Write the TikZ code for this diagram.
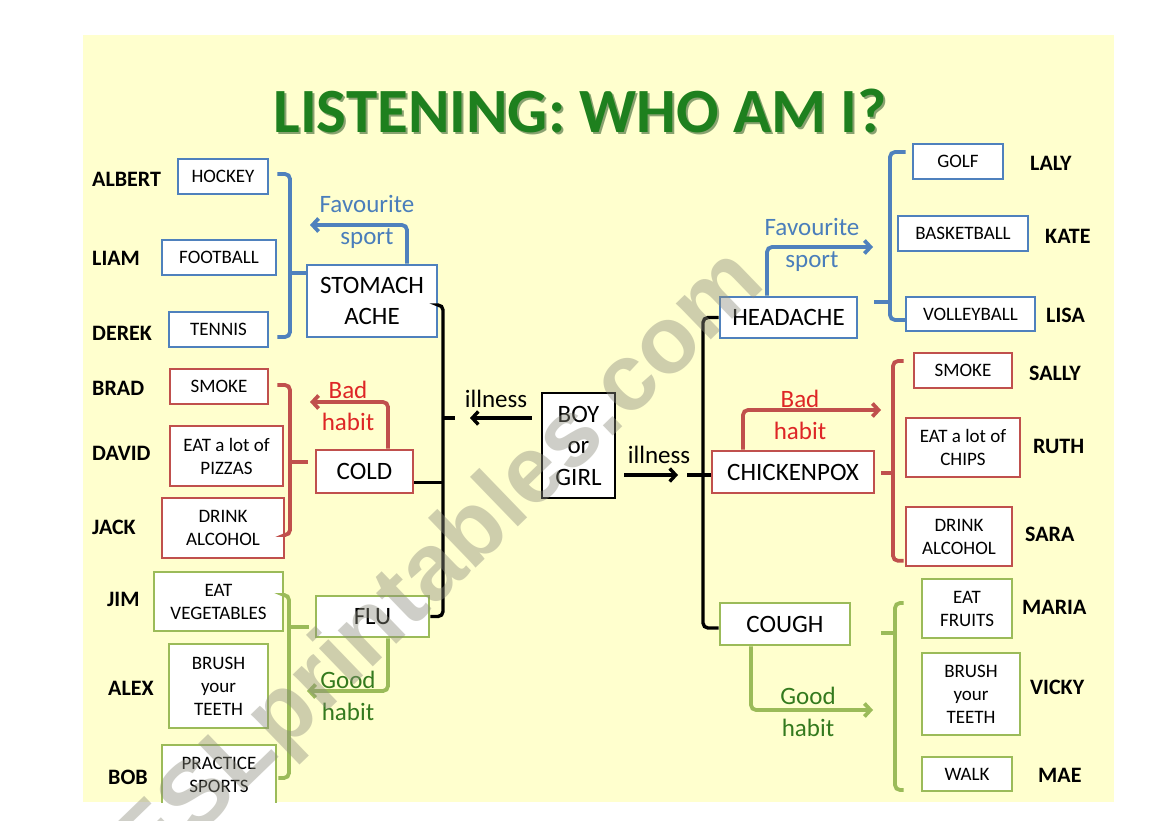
\documentclass[tikz,border=0pt]{standalone}
\usepackage{fontspec}
\setmainfont{Carlito}
\newfontfamily\wmfont{Liberation Sans}
\usetikzlibrary{arrows.meta}
\definecolor{slidebg}{RGB}{255,255,206}
\definecolor{bxblue}{RGB}{79,129,189}
\definecolor{bxred}{RGB}{192,80,77}
\definecolor{bxgreen}{RGB}{155,187,89}
\definecolor{txblue}{RGB}{74,126,187}
\definecolor{txred}{RGB}{222,38,38}
\definecolor{txgreen}{RGB}{52,122,30}
\definecolor{ttlgreen}{RGB}{30,128,30}
\definecolor{ttlshade}{RGB}{20,70,20}
\definecolor{wmgray}{RGB}{140,140,125}
\begin{document}
\begin{tikzpicture}[x=1pt,y=-1pt,
  item/.style={draw, fill=white, line width=2.6pt, inner sep=0pt, align=center,
    font=\fontsize{19}{23}\selectfont},
  bitem/.style={item, draw=bxblue},
  ritem/.style={item, draw=bxred},
  gitem/.style={item, draw=bxgreen},
  ill/.style={font=\fontsize{25}{31.5}\selectfont},
  who/.style={anchor=west, inner sep=0pt, font=\bfseries\fontsize{22}{24}\selectfont},
  lbl/.style={align=center, inner sep=0pt, font=\fontsize{25}{32}\selectfont},
  br/.style={line width=3.8pt, rounded corners=5pt},
  blk/.style={line width=3.4pt, rounded corners=5pt},
  tip/.style={-{Straight Barb[length=6pt,width=13pt]}},
]
\useasboundingbox (0,0) rectangle (1169,821);
\fill[slidebg] (83,35) rectangle (1114,802);

\begin{scope}
\clip (83,35) rectangle (1114,802);

% title
\node[font=\bfseries\fontsize{63}{63}\selectfont, text=ttlshade, opacity=0.5] at (582,113) {LISTENING: WHO AM I?};
\node[font=\bfseries\fontsize{63}{63}\selectfont, text=ttlgreen] (title) at (580,111) {LISTENING: WHO AM I?};

% centre
\node[item, draw=black, ill, minimum width=73pt, minimum height=105pt] (boy) at (578.5,445.5) {BOY\\or\\GIRL};

% left illnesses
\node[bitem, ill, minimum width=130pt, minimum height=72pt] (stomach) at (372,301) {STOMACH\\ACHE};
\node[ritem, ill, minimum width=97pt, minimum height=43pt] (cold) at (364.5,471.5) {COLD};
\node[gitem, ill, minimum width=113pt, minimum height=41pt] (flu) at (372.5,616.5) {FLU};

% left items
\node[bitem, minimum width=90pt, minimum height=35pt] (hockey) at (223,176.5) {HOCKEY};
\node[bitem, minimum width=114pt, minimum height=35pt] (football) at (219,257.5) {FOOTBALL};
\node[bitem, minimum width=99pt, minimum height=35pt] (tennis) at (218.5,329.5) {TENNIS};
\node[ritem, minimum width=98pt, minimum height=35pt] (smokeL) at (219,386.5) {SMOKE};
\node[ritem, minimum width=113pt, minimum height=60pt] (pizzas) at (226.5,456) {EAT a lot of\\PIZZAS};
\node[ritem, minimum width=122pt, minimum height=60pt] (alcoholL) at (223,528) {DRINK\\ALCOHOL};
\node[gitem, minimum width=129pt, minimum height=59pt] (veg) at (218.5,601.5) {EAT\\VEGETABLES};
\node[gitem, minimum width=99pt, minimum height=84pt] (teethL) at (218.5,686) {BRUSH\\your\\TEETH};
\node[gitem, minimum width=114pt, minimum height=60pt] (practice) at (219,775) {PRACTICE\\SPORTS};

% left names
\node[who] (albert) at (92,179) {ALBERT};
\node[who] (liam) at (92,258) {LIAM};
\node[who] (derek) at (92,333) {DEREK};
\node[who] (brad) at (92,388) {BRAD};
\node[who] (david) at (92,453) {DAVID};
\node[who] (jack) at (92,527) {JACK};
\node[who] (jim) at (107,599) {JIM};
\node[who] (alex) at (108,688) {ALEX};
\node[who] (bob) at (108,777) {BOB};

% right illnesses
\node[bitem, ill, minimum width=137pt, minimum height=41pt] (headache) at (788.5,317.5) {HEADACHE};
\node[ritem, ill, minimum width=162pt, minimum height=42pt] (chickenpox) at (793,472) {CHICKENPOX};
\node[gitem, ill, minimum width=130pt, minimum height=42pt] (cough) at (785,624) {COUGH};

% right items
\node[bitem, minimum width=90pt, minimum height=35pt] (golf) at (958,161.5) {GOLF};
\node[bitem, minimum width=130pt, minimum height=35pt] (basketball) at (963,233.5) {BASKETBALL};
\node[bitem, minimum width=129pt, minimum height=34pt] (volleyball) at (970.5,314) {VOLLEYBALL};
\node[ritem, minimum width=98pt, minimum height=35pt] (smokeR) at (963,370.5) {SMOKE};
\node[ritem, minimum width=114pt, minimum height=59pt] (chips) at (963,447.5) {EAT a lot of\\CHIPS};
\node[ritem, minimum width=106pt, minimum height=59pt] (alcoholR) at (959,536.5) {DRINK\\ALCOHOL};
\node[gitem, minimum width=90pt, minimum height=59pt] (fruits) at (967,608.5) {EAT\\FRUITS};
\node[gitem, minimum width=98pt, minimum height=82pt] (teethR) at (971,694) {BRUSH\\your\\TEETH};
\node[gitem, minimum width=90pt, minimum height=34pt] (walk) at (967,774) {WALK};

% right names
\node[who] (laly) at (1030,163) {LALY};
\node[who] (kate) at (1045,236) {KATE};
\node[who] (lisa) at (1046,315) {LISA};
\node[who] (sally) at (1029,373) {SALLY};
\node[who] (ruth) at (1033,446) {RUTH};
\node[who] (sara) at (1025,534) {SARA};
\node[who] (maria) at (1022,607) {MARIA};
\node[who] (vicky) at (1030,687) {VICKY};
\node[who] (mae) at (1038,775) {MAE};

% labels
\node[lbl, text=txblue] (favL) at (367,222) {Favourite\\sport};
\node[lbl, text=txred] (badL) at (348,406) {Bad\\habit};
\node[lbl, text=txgreen] (goodL) at (348,696) {Good\\habit};
\node[lbl, text=txblue] (favR) at (812,245) {Favourite\\sport};
\node[lbl, text=txred] (badR) at (800,415) {Bad\\habit};
\node[lbl, text=txgreen] (goodR) at (808,712) {Good\\habit};
\node[lbl] (illL) at (496,399) {illness};
\node[lbl] (illR) at (659,455) {illness};

% coordinates
\coordinate (kbl) at (290,273);
\coordinate (kbr) at (290,462);
\coordinate (kbg) at (289,627);
\coordinate (kkl) at (443,418);
\coordinate (kkr) at (703,475);
\coordinate (kbR) at (890,302);
\coordinate (krR) at (893,473);
\coordinate (kgR) at (895,633);
\coordinate (tfavL) at (310,225);
\coordinate (tbadL) at (310,402);
\coordinate (tgoodL) at (307,691);
\coordinate (tfavR) at (873,247);
\coordinate (tbadR) at (881,410);
\coordinate (tgoodR) at (873,710);
\coordinate (tillL) at (470,418);
\coordinate (tillR) at (678,475);

% left brackets
\draw[br, bxblue] ([xshift=8pt,yshift=2.5pt]hockey.east) -| (kbl) |- ([xshift=8pt,yshift=-7.5pt]tennis.east);
\draw[br, bxblue, rounded corners=0pt] (kbl) -- (kbl -| stomach.west);
\draw[br, bxred] ([xshift=8pt,yshift=1.5pt]smokeL.east) -| (kbr) |- ([yshift=-7pt]alcoholL.east);
\draw[br, bxred, rounded corners=0pt] (kbr) -- ([xshift=-7pt]kbr -| cold.west);
\draw[br, bxgreen] ([xshift=1pt,yshift=6.5pt]veg.east) -| (kbg) |- ([xshift=1pt,yshift=-3pt]practice.east);
\draw[br, bxgreen, rounded corners=0pt] (kbg) -- ([xshift=-6pt]kbg -| flu.west);

% right brackets
\draw[br, bxblue] ([xshift=-6pt,yshift=9.5pt]golf.west) -| (kbR) |- ([xshift=2pt,yshift=-6pt]volleyball.west);
\draw[br, bxblue, rounded corners=0pt] (kbR) -- ([xshift=16pt]kbR -| headache.east);
\draw[br, bxred] ([xshift=-9pt,yshift=9.5pt]smokeR.west) -| (krR) |- ([xshift=-1pt,yshift=6.5pt]alcoholR.south west);
\draw[br, bxred, rounded corners=0pt] (krR) -- ([xshift=6pt]krR -| chickenpox.east);
\draw[br, bxgreen] ([xshift=-17pt,yshift=5.5pt]fruits.west) -| (kgR) |- ([xshift=-17pt,yshift=-16pt]walk.west);
\draw[br, bxgreen, rounded corners=0pt] (kgR) -- ([xshift=30pt]kgR -| cough.east);

% black bracket left
\draw[blk] ([yshift=-4pt]stomach.east) -| (kkl) |- (flu.east);
\draw[blk] ([yshift=-11pt]cold.east) -- ([yshift=-11pt]cold.east -| kkl);
\draw[blk, rounded corners=0pt] (kkl) -- ++(12,0);
\draw[blk, tip, rounded corners=0pt] ([xshift=-9pt]boy.west |- kkl) -- (tillL);

% black bracket right
\draw[blk] (headache.west) -| (kkr) |- ([yshift=-4pt]cough.west);
\draw[blk, rounded corners=0pt] (kkr) -- (kkr -| chickenpox.west);
\draw[blk, rounded corners=0pt] (kkr) -- ++(-16,0);
\draw[blk, tip, rounded corners=0pt] ([xshift=8pt]boy.east |- kkr) -- (tillR);

% labelled arrows
\draw[br, bxblue, tip] ([xshift=35pt]stomach.north) |- (tfavL);
\draw[br, bxred, tip] ([xshift=23.5pt]cold.north) |- (tbadL);
\draw[br, bxgreen, tip] ([xshift=15.5pt]flu.south) |- (tgoodL);
\draw[br, bxblue, tip] ([xshift=-21.5pt]headache.north) |- (tfavR);
\draw[br, bxred, tip] ([xshift=-50pt]chickenpox.north) |- (tbadR);
\draw[br, bxgreen, tip] ([xshift=-34pt]cough.south) |- (tgoodR);
\end{scope}

% watermark
\node[rotate=44, anchor=base, inner sep=0pt, text=wmgray, opacity=0.42,
  font=\wmfont\bfseries\fontsize{95}{95}\selectfont] (wm) at (458,585) {ESLprintables.com};
\end{tikzpicture}
\end{document}
